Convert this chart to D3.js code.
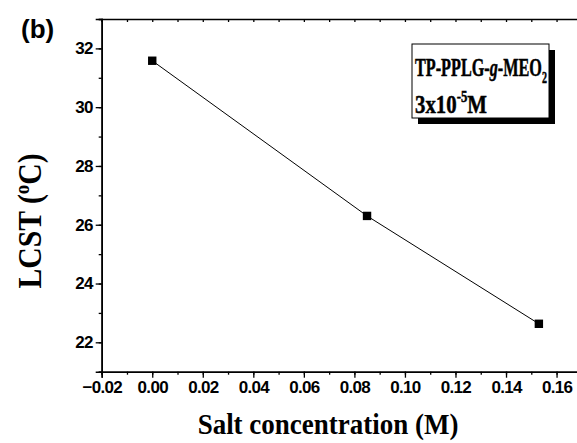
<!DOCTYPE html>
<html>
<head>
<meta charset="utf-8">
<script src="https://cdn.jsdelivr.net/npm/d3@7"></script>
<style>
  body { margin: 0; background: #fff; }
  svg { display: block; }
</style>
</head>
<body>
<div id="chart"></div>
<script>
// data
const saltConc = [0.0, 0.085, 0.153];
const lcst = [31.58, 26.3, 22.63];
const xTicks = [-0.02, 0.00, 0.02, 0.04, 0.06, 0.08, 0.10, 0.12, 0.14, 0.16];
const yTicks = [22, 24, 26, 28, 30, 32];

const W = 577, H = 443;
const sans = "'Liberation Sans', Arial, sans-serif";
const serif = "'Liberation Serif', 'Times New Roman', serif";

const svg = d3.select('#chart').append('svg')
    .attr('width', W).attr('height', H);

// plot frame runs past the right edge (cropped like the original)
const x = d3.scaleLinear().domain([-0.02, 0.18]).range([101.7, 607.1]);
const y = d3.scaleLinear().domain([21, 33]).range([371.7, 19]);

const minorX = d3.range(-0.02, 0.1801, 0.01).map(v => +v.toFixed(2));
const minorY = d3.range(21, 33.01, 1);

// bottom axis: major ticks labelled, minor ticks in between
const bottomAx = svg.append('g').attr('transform', `translate(0,${y(21)})`);
bottomAx.call(d3.axisBottom(x).tickValues(minorX).tickSize(3).tickFormat(''));
bottomAx.call(g => g.append('g').call(d3.axisBottom(x).tickValues(xTicks).tickSize(6)
    .tickFormat(d3.format('.2f'))));

// top axis: small inward ticks
const topAx = svg.append('g').attr('transform', `translate(0,${y(33)})`);
topAx.call(d3.axisBottom(x).tickValues(minorX).tickSize(3).tickFormat(''));

// left axis
const leftAx = svg.append('g').attr('transform', `translate(${x(-0.02)},0)`);
leftAx.call(d3.axisLeft(y).tickValues(minorY).tickSize(3).tickFormat(''));
leftAx.call(g => g.append('g').call(d3.axisLeft(y).tickValues(yTicks).tickSize(6)
    .tickFormat(d3.format('d'))));

svg.selectAll('.domain').attr('stroke', '#000').attr('stroke-width', 1.6);
svg.selectAll('.tick line').attr('stroke', '#000').attr('stroke-width', 1.3);
svg.selectAll('.tick text')
    .attr('font-family', sans).attr('font-weight', 'bold')
    .attr('font-size', '17px').attr('fill', '#000')
    .style('letter-spacing', '-0.7px');
bottomAx.selectAll('.tick text').attr('dy', '0.75em').attr('y', 9);
leftAx.selectAll('.tick text').attr('x', -9);

// line + square markers
const pts = saltConc.map((v, i) => [v, lcst[i]]);
svg.append('path')
    .datum(pts)
    .attr('fill', 'none').attr('stroke', '#000').attr('stroke-width', 1)
    .attr('d', d3.line().x(d => x(d[0])).y(d => y(d[1])));
svg.selectAll('rect.pt').data(pts).enter().append('rect')
    .attr('class', 'pt')
    .attr('x', d => x(d[0]) - 4.2).attr('y', d => y(d[1]) - 4.2)
    .attr('width', 8.4).attr('height', 8.4).attr('fill', '#000');

// panel label
svg.append('text').text('(b)')
    .attr('x', 21).attr('y', 38)
    .attr('font-family', sans).attr('font-weight', 'bold').attr('font-size', '26px');

// axis titles
svg.append('text')
    .attr('transform', `translate(328,434) scale(0.9,1)`)
    .attr('text-anchor', 'middle')
    .attr('font-family', serif).attr('font-weight', 'bold').attr('font-size', '30px')
    .text('Salt concentration (M)');

const yl = svg.append('text')
    .attr('transform', `translate(41,221) rotate(-90) scale(0.9,1)`)
    .attr('text-anchor', 'middle')
    .attr('font-family', serif).attr('font-weight', 'bold').attr('font-size', '33px');
yl.append('tspan').text('LCST (');
yl.append('tspan').text('o').attr('font-size', '21px').attr('dy', '-12');
yl.append('tspan').text('C)').attr('dy', '12');

// legend box with drop shadow
const bx = 412, by = 44, bw = 137, bh = 74;
svg.append('rect').attr('x', bx + 6).attr('y', by + 6).attr('width', bw).attr('height', bh).attr('fill', '#000');
svg.append('rect').attr('x', bx).attr('y', by).attr('width', bw).attr('height', bh)
    .attr('fill', '#fff').attr('stroke', '#000').attr('stroke-width', 1);

// legend text is condensed to fill the box, like the original
const l1 = svg.append('text')
    .attr('font-family', serif).attr('font-weight', 'bold').attr('font-size', '26px')
    .attr('stroke', '#000').attr('stroke-width', 0.5);
l1.append('tspan').text('TP-PPLG-');
l1.append('tspan').text('g').attr('font-style', 'italic');
l1.append('tspan').text('-MEO');
l1.append('tspan').text('2').attr('font-size', '16px').attr('dy', '7');
const sx1 = (bw - 5) / l1.node().getBBox().width;
l1.attr('transform', `translate(${bx + 3},76) scale(${sx1},1)`);

const l2 = svg.append('text')
    .attr('font-family', serif).attr('font-weight', 'bold').attr('font-size', '26px')
    .attr('stroke', '#000').attr('stroke-width', 0.5);
l2.append('tspan').text('3x10');
l2.append('tspan').text('-5').attr('font-size', '16px').attr('dy', '-11');
l2.append('tspan').text('M').attr('dy', '11');
const sx2 = Math.min(1, 72 / l2.node().getBBox().width);
l2.attr('transform', `translate(${bx + 3},113) scale(${sx2},1)`);
</script>
</body>
</html>
